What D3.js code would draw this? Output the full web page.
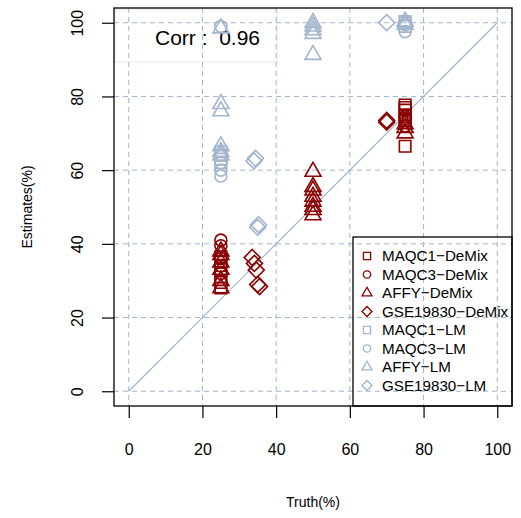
<!DOCTYPE html>
<html>
<head>
<meta charset="utf-8">
<script src="https://cdnjs.cloudflare.com/ajax/libs/d3/7.8.5/d3.min.js"></script>
<style>
  body { margin: 0; background: #fff; }
  svg { font-family: "Liberation Sans", Arial, sans-serif; }
</style>
</head>
<body>
<div class="main"></div>
<script>
// truth vs estimate pairs
var maqc1Demix = [[25, 28], [25, 29.5], [25, 31], [25, 33], [25, 35], [25, 36.5],
                  [75, 66.5], [75, 73.5], [75, 75], [75, 76.3], [75, 77], [75, 77.7]];
var maqc3Demix = [[25, 41], [25, 39.5], [25, 36], [25, 34], [25, 32],
                  [75, 72], [75, 73], [75, 74], [75, 74.5]];
var affyDemix = [[25, 28], [25, 30], [25, 33], [25, 35], [25, 37], [25, 38],
                 [50, 59.6], [50, 55.5], [50, 54.5], [50, 52.8], [50, 51.5], [50, 50.1], [50, 49.2], [50, 47.8],
                 [75, 70], [75, 71.5], [75, 72.5]];
var gseDemix = [[33.5, 36.3], [34.1, 34.7], [34.6, 32.9], [35, 29], [35.5, 28.4],
                [70, 73], [70, 73.5]];
var maqc1Lm = [[25, 62], [25, 63], [25, 64], [25, 65],
               [75, 99], [75, 100], [75, 100.3]];
var maqc3Lm = [[25, 58.4], [25, 60], [25, 62], [25, 99],
               [75, 97.6], [75, 99.5]];
var affyLm = [[25, 64], [25, 65], [25, 66.5], [25, 76], [25, 78], [25, 98.5],
              [50, 91.3], [50, 97], [50, 98], [50, 99], [50, 100],
              [75, 99.5], [75, 100.3]];
var gseLm = [[34, 62.5], [34.4, 63.2], [35, 44.5], [35.2, 45.2], [70, 100]];

var seriesNames = ["MAQC1\u2212DeMix", "MAQC3\u2212DeMix", "AFFY\u2212DeMix", "GSE19830\u2212DeMix",
                   "MAQC1\u2212LM", "MAQC3\u2212LM", "AFFY\u2212LM", "GSE19830\u2212LM"];
var seriesData = [maqc1Demix, maqc3Demix, affyDemix, gseDemix, maqc1Lm, maqc3Lm, affyLm, gseLm];
var seriesShape = ["square", "circle", "triangle", "diamond", "square", "circle", "triangle", "diamond"];

var xTicks = [0, 20, 40, 60, 80, 100];
var yTicks = [0, 20, 40, 60, 80, 100];
var corrLabel = "Corr :  0.96";

var red = "#8b0000", light = "#a2b5cd";
var seriesColor = seriesNames.map(function(d, i) { return i < 4 ? red : light; });

var W = 521, H = 518;
var box = {l: 114, r: 512, t: 8, b: 406};

var x = d3.scaleLinear().domain([-4, 104]).range([box.l, box.r]);
var y = d3.scaleLinear().domain([-4, 104]).range([box.b, box.t]);

var svg = d3.select(".main").append("svg")
    .attr("width", W).attr("height", H);

// symbol makers; diamond = rotated square like R's pch 5
function symbolPath(shape, scale) {
    var s = scale || 1;
    if (shape == "square") return d3.symbol(d3.symbolSquare, 132 * s * s)();
    if (shape == "circle") return d3.symbol(d3.symbolCircle, 113 * s * s)();
    if (shape == "triangle") return d3.symbol(d3.symbolTriangle, 111 * s * s)();
    return d3.symbol(d3.symbolSquare, 128 * s * s)();
}
function symbolRot(shape) { return shape == "diamond" ? " rotate(45)" : ""; }

// corr box (faint border)
svg.append("rect")
    .attr("x", 115).attr("y", 9).attr("width", 162).attr("height", 53)
    .attr("fill", "none").attr("stroke", "#dfeaea").attr("stroke-width", 1);

svg.append("text")
    .attr("x", 155).attr("y", 44.5)
    .attr("font-size", 21).attr("fill", "#000")
    .attr("xml:space", "preserve")
    .style("white-space", "pre")
    .text(corrLabel);

// grid
var grid = svg.append("g").attr("stroke", light).attr("stroke-width", 1)
    .attr("stroke-dasharray", "5,4").attr("fill", "none");
grid.selectAll(".gx").data(xTicks).enter().append("line")
    .attr("x1", function(d) { return x(d); }).attr("x2", function(d) { return x(d); })
    .attr("y1", box.t).attr("y2", box.b);
grid.selectAll(".gy").data(yTicks).enter().append("line")
    .attr("y1", function(d) { return y(d); }).attr("y2", function(d) { return y(d); })
    .attr("x1", box.l).attr("x2", box.r);

// identity line
svg.append("line")
    .attr("x1", x(0)).attr("y1", y(0)).attr("x2", x(100)).attr("y2", y(100))
    .attr("stroke", light).attr("stroke-width", 1.2);

// points
seriesData.forEach(function(pts, i) {
    svg.append("g").selectAll("path").data(pts).enter().append("path")
        .attr("d", symbolPath(seriesShape[i]))
        .attr("transform", function(d) {
            return "translate(" + x(d[0]) + "," + y(d[1]) + ")" + symbolRot(seriesShape[i]);
        })
        .attr("fill", "none")
        .attr("stroke", seriesColor[i])
        .attr("stroke-width", 1.6);
});

// frame
svg.append("rect")
    .attr("x", box.l).attr("y", box.t)
    .attr("width", box.r - box.l).attr("height", box.b - box.t)
    .attr("fill", "none").attr("stroke", "#000").attr("stroke-width", 1.3);

// axes
var xAxis = svg.append("g")
    .attr("transform", "translate(0," + box.b + ")")
    .call(d3.axisBottom(x).tickValues(xTicks).tickSize(12).tickSizeOuter(0));
xAxis.select(".domain").remove();
xAxis.selectAll("line").attr("stroke", "#000").attr("stroke-width", 1.2);
xAxis.selectAll("text")
    .attr("y", 49).attr("dy", 0)
    .attr("font-size", 16).attr("fill", "#000")
    .attr("font-family", "Liberation Sans, Arial, sans-serif");

var yAxis = svg.append("g")
    .attr("transform", "translate(" + box.l + ",0)")
    .call(d3.axisLeft(y).tickValues(yTicks).tickSize(12).tickSizeOuter(0));
yAxis.select(".domain").remove();
yAxis.selectAll("line").attr("stroke", "#000").attr("stroke-width", 1.2);
yAxis.selectAll("text")
    .attr("x", 0).attr("dy", 0)
    .attr("transform", "translate(-31,0) rotate(-90)")
    .attr("text-anchor", "middle")
    .attr("font-size", 16).attr("fill", "#000")
    .attr("font-family", "Liberation Sans, Arial, sans-serif");

svg.append("text")
    .attr("x", (box.l + box.r) / 2).attr("y", 507)
    .attr("text-anchor", "middle").attr("font-size", 14)
    .text("Truth(%)");

svg.append("text")
    .attr("transform", "translate(32," + (box.t + box.b) / 2 + ") rotate(-90)")
    .attr("text-anchor", "middle").attr("font-size", 14)
    .text("Estimates(%)");

// legend
var leg = svg.append("g");
leg.append("rect")
    .attr("x", 353).attr("y", 237).attr("width", box.r - 353).attr("height", box.b - 237)
    .attr("fill", "none").attr("stroke", "#000").attr("stroke-width", 1.3);

var rows = leg.selectAll(".row").data(seriesNames).enter().append("g")
    .attr("transform", function(d, i) { return "translate(367," + (256 + i * 18.5) + ")"; });
rows.append("path")
    .attr("d", function(d, i) { return symbolPath(seriesShape[i], 0.62); })
    .attr("transform", function(d, i) { return symbolRot(seriesShape[i]).trim(); })
    .attr("fill", "none")
    .attr("stroke", function(d, i) { return seriesColor[i]; })
    .attr("stroke-width", 1.3);
rows.append("text")
    .attr("x", 15).attr("y", 5.4)
    .attr("font-size", 15.2).attr("fill", "#000")
    .text(function(d) { return d; });
</script>
</body>
</html>
